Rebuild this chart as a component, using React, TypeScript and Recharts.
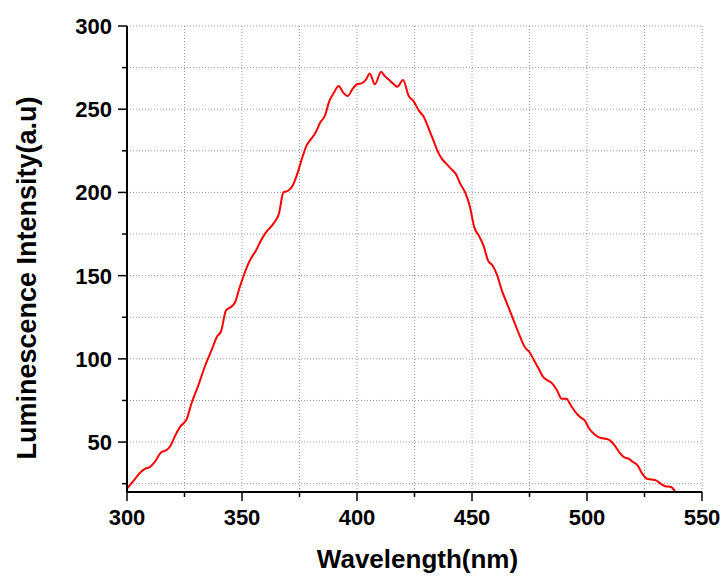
import React from "react";
import { LineChart, Line, XAxis, YAxis, CartesianGrid, Label } from "recharts";

const wavelengths = [
  300, 303, 306, 308, 310, 312, 315, 317, 319, 321, 323, 326, 328, 331, 334, 337, 339, 341, 343, 345,
  347, 349, 351, 353, 356, 359, 361, 363, 365, 366, 368, 370, 372, 374, 376, 378, 380, 382, 384, 386,
  388, 390, 392, 394, 396, 398, 400, 402, 404, 405.5, 407.8, 410.5, 412, 414, 416, 417.5, 420, 422.5, 424.5, 427,
  429, 431, 433, 435, 437, 439, 441, 443, 445, 447, 449, 451, 453, 455, 457, 459, 461, 463, 465, 467,
  469, 471, 473, 475, 477, 479, 481, 483, 485, 487, 489, 491, 493, 495, 497, 499, 501, 503, 505, 508,
  510, 512, 514, 516, 518, 520, 522, 524, 526, 528, 530, 532, 534, 536.5, 538.5,
];
const intensities = [
  22, 27, 32, 34, 35, 38, 44, 45, 48, 54, 59, 64, 73, 84, 96, 106, 113, 117, 129, 131,
  134, 143, 151, 158, 165, 173, 177, 180, 184, 187, 200, 201, 204, 211, 220, 228, 232, 236, 242, 246,
  255, 260, 264, 260, 258, 262, 265, 265.5, 268, 271.5, 265, 272.5, 270, 267.5, 265, 263.5, 267.5, 258, 255, 249,
  245.5, 239, 232, 225, 220, 217, 214, 211, 205, 200, 192, 179, 174, 168, 159, 156, 150, 141, 134, 127,
  120, 113, 107, 104, 99, 94, 89, 87, 85, 81, 76, 76, 72, 68, 65, 63, 58, 55, 53, 52,
  51, 48, 44, 41, 40, 38, 36, 31, 28, 27.5, 27, 25, 23.5, 23, 20,
];
const xTicks = [300, 325, 350, 375, 400, 425, 450, 475, 500, 525, 550];
const xLabelTicks = [300, 350, 400, 450, 500, 550];
const yTicks = [25, 50, 75, 100, 125, 150, 175, 200, 225, 250, 275, 300];
const yLabelTicks = [50, 100, 150, 200, 250, 300];
const xTitle = "Wavelength(nm)";
const yTitle = "Luminescence Intensity(a.u)";

const data = wavelengths.map((w, i) => ({ w, v: intensities[i] }));

const FONT = "'Liberation Sans', Arial, sans-serif";

const XTick = (props: any) => {
  const { x, y, payload } = props;
  const major = xLabelTicks.includes(payload.value);
  return (
    <g>
      <line x1={x} x2={x} y1={y} y2={y + (major ? 9 : 5)} stroke="#000" strokeWidth={1.5} />
      {major && (
        <text x={x} y={y + 33} textAnchor="middle" fontFamily={FONT} fontWeight="bold" fontSize={22} fill="#000">
          {payload.value}
        </text>
      )}
    </g>
  );
};

const YTick = (props: any) => {
  const { x, y, payload } = props;
  const major = yLabelTicks.includes(payload.value);
  return (
    <g>
      <line x1={x} x2={x - (major ? 9 : 5)} y1={y} y2={y} stroke="#000" strokeWidth={1.5} />
      {major && (
        <text x={x - 15} y={y + 8} textAnchor="end" fontFamily={FONT} fontWeight="bold" fontSize={22} fill="#000">
          {payload.value}
        </text>
      )}
    </g>
  );
};

export default function App() {
  return (
    <div style={{ position: "absolute", left: 0, top: 0, background: "#fff" }}>
      <LineChart width={728} height={579} data={data} margin={{ top: 26, right: 26, left: 0, bottom: 27 }}>
        <CartesianGrid
          stroke="#999"
          strokeDasharray="1 2"
          strokeWidth={1}
          xAxisId="b"
          yAxisId="l"
        />
        <XAxis
          xAxisId="b"
          dataKey="w"
          type="number"
          domain={[300, 550]}
          ticks={xTicks}
          allowDataOverflow
          height={60}
          tickSize={0}
          tickMargin={0}
          tickLine={false}
          axisLine={{ stroke: "#000", strokeWidth: 2 }}
          tick={<XTick />}
          interval={0}
        >
          <Label
            content={(p: any) => {
              const vb = p.viewBox || { x: 127, width: 575, y: 492 };
              return (
                <text
                  x={vb.x + vb.width / 2 + 3}
                  y={vb.y + 76}
                  textAnchor="middle"
                  fontFamily={FONT}
                  fontWeight="bold"
                  fontSize={26}
                  fill="#000"
                >
                  {xTitle}
                </text>
              );
            }}
          />
        </XAxis>
        <XAxis
          xAxisId="t"
          orientation="top"
          dataKey="w"
          type="number"
          domain={[300, 550]}
          ticks={xTicks}
          height={0}
          tick={false}
          tickLine={false}
          axisLine={{ stroke: "#000", strokeWidth: 2 }}
        />
        <YAxis
          yAxisId="l"
          type="number"
          domain={[20, 300]}
          ticks={yTicks}
          allowDataOverflow
          width={127}
          tickSize={0}
          tickMargin={0}
          tickLine={false}
          axisLine={{ stroke: "#000", strokeWidth: 2 }}
          tick={<YTick />}
          interval={0}
        >
          <Label
            content={(p: any) => {
              const vb = p.viewBox || { x: 0, y: 26, height: 466 };
              const cx = 36;
              const cy = vb.y + vb.height / 2 + 19;
              return (
                <text
                  x={cx}
                  y={cy}
                  transform={`rotate(-90 ${cx} ${cy})`}
                  textAnchor="middle"
                  fontFamily={FONT}
                  fontWeight="bold"
                  fontSize={27}
                  fill="#000"
                >
                  {yTitle}
                </text>
              );
            }}
          />
        </YAxis>
        <YAxis
          yAxisId="r"
          orientation="right"
          type="number"
          domain={[20, 300]}
          ticks={yTicks}
          width={0}
          tick={false}
          tickLine={false}
          axisLine={{ stroke: "#000", strokeWidth: 2 }}
        />
        <Line
          xAxisId="b"
          yAxisId="l"
          dataKey="v"
          type="monotone"
          stroke="#ff0000"
          strokeWidth={2}
          dot={false}
          isAnimationActive={false}
        />
      </LineChart>
    </div>
  );
}
